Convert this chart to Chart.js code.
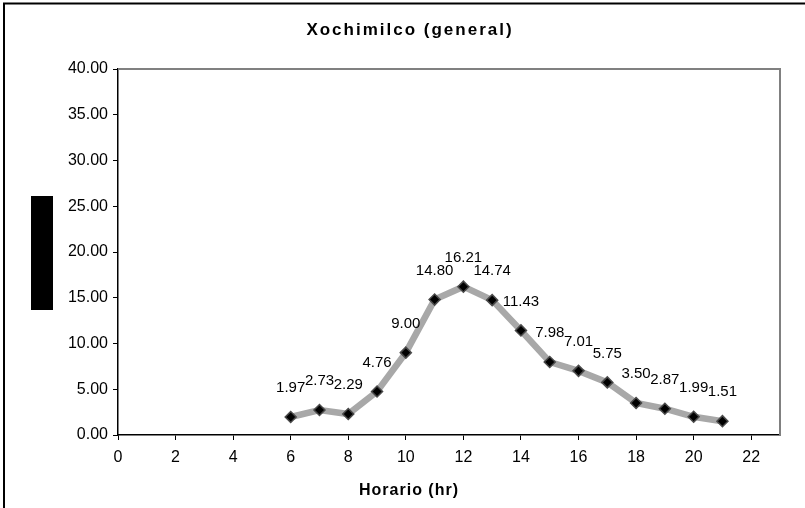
<!DOCTYPE html>
<html>
<head>
<meta charset="utf-8">
<script src="https://cdn.jsdelivr.net/npm/chart.js@4/dist/chart.umd.min.js"></script>
<style>
  html, body { margin: 0; padding: 0; background: #ffffff; }
  #wrap { width: 805px; height: 508px; position: relative; }
</style>
</head>
<body>
<div id="wrap"><canvas id="chart" width="805" height="508"></canvas></div>
<script>
// Hourly readings, Xochimilco (general)
const hours = [6, 7, 8, 9, 10, 11, 12, 13, 14, 15, 16, 17, 18, 19, 20, 21];
const values = [1.97, 2.73, 2.29, 4.76, 9.00, 14.80, 16.21, 14.74, 11.43, 7.98, 7.01, 5.75, 3.50, 2.87, 1.99, 1.51];
const xTickValues = [0, 2, 4, 6, 8, 10, 12, 14, 16, 18, 20, 22];
const chartTitle = 'Xochimilco (general)';
const xAxisTitle = 'Horario (hr)';

const FONT = '"Liberation Sans", Arial, sans-serif';

// Frame, plot border, titles, y-title block and value labels
const decorations = {
  id: 'decorations',
  beforeDraw(chart) {
    const ctx = chart.ctx;
    ctx.save();
    ctx.fillStyle = '#ffffff';
    ctx.fillRect(0, 0, chart.width, chart.height);
    // outer frame (top and left edges)
    ctx.strokeStyle = '#000000';
    ctx.lineWidth = 2;
    ctx.beginPath();
    ctx.moveTo(4, chart.height);
    ctx.lineTo(4, 3.5);
    ctx.lineTo(chart.width, 3.5);
    ctx.stroke();
    // y-axis title block
    ctx.fillStyle = '#000000';
    ctx.fillRect(31, 196, 22, 114);
    ctx.restore();
  },
  beforeDatasetsDraw(chart) {
    const { ctx, chartArea: a } = chart;
    ctx.save();
    ctx.strokeStyle = '#808080';
    ctx.lineWidth = 2;
    ctx.beginPath();
    ctx.moveTo(a.left, a.top);
    ctx.lineTo(a.right, a.top);
    ctx.lineTo(a.right, a.bottom);
    ctx.stroke();
    ctx.restore();
  },
  afterDatasetsDraw(chart) {
    const ctx = chart.ctx;
    const meta = chart.getDatasetMeta(0);
    ctx.save();
    ctx.fillStyle = '#000000';
    ctx.font = '15px ' + FONT;
    ctx.textAlign = 'center';
    ctx.textBaseline = 'middle';
    meta.data.forEach((pt, i) => {
      ctx.fillText(values[i].toFixed(2), pt.x, pt.y - 29);
    });
    ctx.restore();
  },
  afterDraw(chart) {
    const ctx = chart.ctx;
    ctx.save();
    ctx.fillStyle = '#000000';
    ctx.textAlign = 'center';
    ctx.textBaseline = 'middle';
    ctx.font = 'bold 17px ' + FONT;
    ctx.letterSpacing = '2px';
    ctx.fillText(chartTitle, 410, 30);
    ctx.font = 'bold 16px ' + FONT;
    ctx.letterSpacing = '1px';
    ctx.fillText(xAxisTitle, 409, 491);
    ctx.restore();
  }
};

new Chart(document.getElementById('chart'), {
  type: 'scatter',
  data: {
    datasets: [{
      data: hours.map((h, i) => ({ x: h, y: values[i] })),
      showLine: true,
      borderColor: '#a8a8a8',
      borderWidth: 6.5,
      tension: 0,
      pointStyle: 'rectRot',
      pointRadius: 5.5,
      pointHoverRadius: 5.5,
      pointBackgroundColor: '#000000',
      pointBorderColor: '#4a4a4a',
      pointBorderWidth: 1.5
    }]
  },
  options: {
    responsive: false,
    animation: false,
    events: [],
    layout: { padding: { top: 69, right: 25, left: 0, bottom: 0 } },
    plugins: {
      legend: { display: false },
      tooltip: { enabled: false },
      title: { display: false }
    },
    scales: {
      x: {
        type: 'linear',
        min: 0,
        max: 23,
        afterBuildTicks(axis) {
          axis.ticks = xTickValues.map(v => ({ value: v }));
        },
        afterFit(axis) { axis.height = 73; },
        border: { display: true, color: '#000000', width: 1.5 },
        grid: { display: true, drawOnChartArea: false, drawTicks: true, tickLength: 5, color: '#000000' },
        ticks: {
          color: '#000000',
          font: { family: FONT, size: 16 },
          padding: 8,
          maxRotation: 0,
          callback: v => String(v)
        }
      },
      y: {
        min: 0,
        max: 40,
        afterFit(axis) { axis.width = 118; },
        border: { display: true, color: '#000000', width: 1.5 },
        grid: { display: true, drawOnChartArea: false, drawTicks: true, tickLength: 5, color: '#000000' },
        ticks: {
          stepSize: 5,
          color: '#000000',
          font: { family: FONT, size: 16 },
          padding: 5,
          callback: v => Number(v).toFixed(2)
        }
      }
    }
  },
  plugins: [decorations]
});
</script>
</body>
</html>
